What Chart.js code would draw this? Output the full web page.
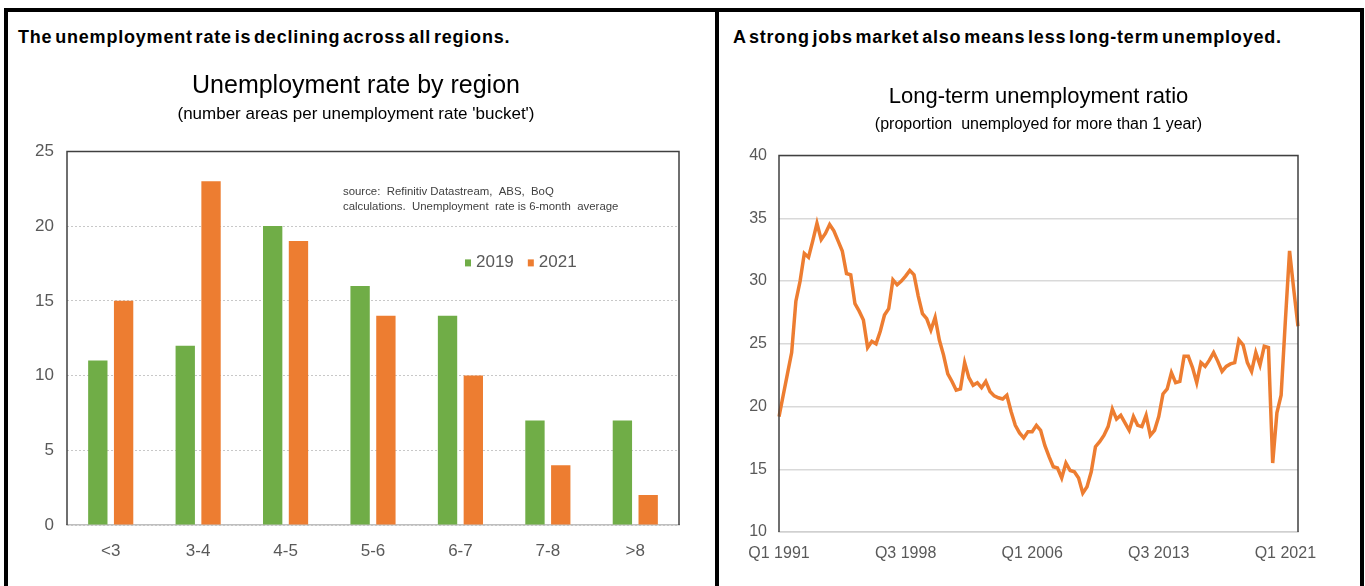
<!DOCTYPE html>
<html lang="en">
<head>
  <meta charset="UTF-8">
  <title>unemployment charts</title>
  <script src="https://cdn.jsdelivr.net/npm/chart.js"></script>
  <style>
    body { margin: 0; background: #fff; font-family: 'Liberation Sans', Arial, sans-serif; }
    #page { position: relative; width: 1365px; height: 586px; overflow: hidden; }
    .rule { position: absolute; background: #000; }
    .headline { position: absolute; top: 26px; line-height: 22px; font-size: 18px; font-weight: bold;
                letter-spacing: 0.8px; word-spacing: -3px; white-space: nowrap; color: #000; }
    .box { position: absolute; top: 55px; height: 531px; }
  </style>
</head>
<body>
<div id="page">
  <div class="rule" style="left:4px;top:8px;width:1360px;height:4px"></div>
  <div class="rule" style="left:4px;top:8px;width:4px;height:578px"></div>
  <div class="rule" style="left:715px;top:8px;width:4px;height:578px"></div>
  <div class="rule" style="left:1360px;top:8px;width:4px;height:578px"></div>

  <div class="headline" style="left:18px">The unemployment rate is declining across all regions.</div>
  <div class="headline" style="left:733px">A strong jobs market also means less long-term unemployed.</div>

  <div class="box" style="left:8px;width:707px"><canvas id="regionChart"></canvas></div>
  <div class="box" style="left:719px;width:641px"><canvas id="ltuChart"></canvas></div>
</div>

<script>
  // regions by unemployment rate bucket
  const buckets = ['<3', '3-4', '4-5', '5-6', '6-7', '7-8', '>8']
  const areas2019 = [11, 12, 20, 16, 14, 7, 7]
  const areas2021 = [15, 23, 19, 14, 10, 4, 2]
  const sourceNote = ['source:  Refinitiv Datastream,  ABS,  BoQ',
                      'calculations.  Unemployment  rate is 6-month  average']

  // long-term unemployment ratio, quarterly from Q1 1991
  const firstYear = 1991
  const ltuRatio = [
    19.2, 20.9, 22.6, 24.3, 28.4, 30.0, 32.2, 31.9, 33.2, 34.6,
    33.3, 33.8, 34.5, 34.0, 33.2, 32.4, 30.6, 30.5, 28.2, 27.6,
    26.9, 24.7, 25.2, 25.0, 26.0, 27.3, 27.8, 30.1, 29.7, 30.0,
    30.4, 30.85, 30.5, 28.8, 27.4, 27.0, 26.1, 27.1, 25.3, 24.1,
    22.6, 22.0, 21.3, 21.4, 23.5, 22.3, 21.7, 21.9, 21.5, 22.0,
    21.2, 20.85, 20.7, 20.6, 20.9, 19.6, 18.5, 17.9, 17.5, 18.0,
    18.0, 18.5, 18.1, 16.9, 16.0, 15.2, 15.1, 14.3, 15.5, 14.9,
    14.8, 14.3, 13.1, 13.6, 14.8, 16.8, 17.2, 17.7, 18.4, 19.8,
    19.0, 19.3, 18.7, 18.1, 19.2, 18.5, 18.4, 19.3, 17.7, 18.1,
    19.2, 21.0, 21.4, 22.7, 21.9, 22.0, 24.0, 24.0, 23.1, 21.9,
    23.5, 23.2, 23.7, 24.3, 23.6, 22.8, 23.2, 23.4, 23.5, 25.3,
    24.9, 23.5, 22.8, 24.3, 23.3, 24.8, 24.7, 15.5, 19.5, 20.9,
    26.8, 32.4, 29.3, 26.4
  ]
  const shownQuarters = ['Q1 1991', 'Q3 1998', 'Q1 2006', 'Q3 2013', 'Q1 2021']

  const quarters = []
  for (let i = 0; i < ltuRatio.length; i++) {
    quarters.push(`Q${i % 4 + 1} ${firstYear + Math.floor(i / 4)}`)
  }

  const green = '#70AD47'
  const orange = '#ED7D31'
  const tickGrey = '#595959'

  Chart.defaults.font.family = "'Liberation Sans', Arial, sans-serif"
  Chart.defaults.color = tickGrey

  // left, top and right edges of the plot box
  const plotFrame = {
    id: 'plotFrame',
    afterDraw(chart) {
      const { ctx, chartArea: a } = chart
      ctx.save()
      ctx.strokeStyle = '#404040'
      ctx.lineWidth = 1.5
      ctx.beginPath()
      ctx.moveTo(a.left, a.bottom)
      ctx.lineTo(a.left, a.top)
      ctx.lineTo(a.right, a.top)
      ctx.lineTo(a.right, a.bottom)
      ctx.stroke()
      ctx.restore()
    }
  }

  // source note and legend sit inside the bar chart's plot
  const insideNotes = {
    id: 'insideNotes',
    afterDatasetsDraw(chart) {
      const { ctx, chartArea: a } = chart
      ctx.save()
      ctx.textBaseline = 'middle'
      ctx.font = "11.4px 'Liberation Sans', Arial, sans-serif"
      ctx.fillStyle = '#404040'
      sourceNote.forEach((line, i) => ctx.fillText(line, a.left + 276, a.top + 40 + i * 15))

      ctx.font = "17px 'Liberation Sans', Arial, sans-serif"
      let x = a.left + 398
      const y = a.top + 111
      chart.data.datasets.forEach(ds => {
        ctx.fillStyle = ds.backgroundColor
        ctx.fillRect(x, y - 3, 6, 7)
        x += 11
        ctx.fillStyle = tickGrey
        ctx.fillText(ds.label, x, y)
        x += ctx.measureText(ds.label).width + 14
      })
      ctx.restore()
    }
  }

  new Chart(document.getElementById('regionChart'), {
    type: 'bar',
    data: {
      labels: buckets,
      datasets: [
        { label: '2019', data: areas2019, backgroundColor: green },
        { label: '2021', data: areas2021, backgroundColor: orange }
      ]
    },
    options: {
      responsive: true,
      maintainAspectRatio: false,
      animation: false,
      categoryPercentage: 0.59,
      barPercentage: 0.75,
      layout: { padding: { left: 25, right: 36, top: 0, bottom: 21 } },
      plugins: {
        legend: { display: false },
        tooltip: { enabled: false },
        title: {
          display: true,
          text: 'Unemployment rate by region',
          color: '#000',
          font: { size: 25, weight: 'normal' },
          padding: { top: 16, bottom: 0 }
        },
        subtitle: {
          display: true,
          text: "(number areas per unemployment rate 'bucket')",
          color: '#000',
          font: { size: 17, weight: 'normal' },
          padding: { top: 3, bottom: 27 }
        }
      },
      scales: {
        x: {
          grid: { display: false, drawTicks: false },
          border: { display: true, color: '#bfbfbf', width: 1.5 },
          ticks: { padding: 16, font: { size: 17 }, color: tickGrey },
          afterFit: (scale) => { scale.height = 40 }
        },
        y: {
          min: 0,
          max: 25,
          grid: { color: '#c8c8c8', drawTicks: false },
          border: { display: false, dash: [2, 2] },
          ticks: { stepSize: 5, padding: 13, font: { size: 17 }, color: tickGrey },
          afterFit: (scale) => { scale.width = 34 }
        }
      }
    },
    plugins: [plotFrame, insideNotes]
  })

  new Chart(document.getElementById('ltuChart'), {
    type: 'line',
    data: {
      labels: quarters,
      datasets: [{
        label: 'Long-term unemployment ratio',
        data: ltuRatio,
        borderColor: orange,
        borderWidth: 3.5,
        pointRadius: 0,
        tension: 0
      }]
    },
    options: {
      responsive: true,
      maintainAspectRatio: false,
      animation: false,
      layout: { padding: { left: 20, right: 62, top: 0, bottom: 14 } },
      plugins: {
        legend: { display: false },
        tooltip: { enabled: false },
        title: {
          display: true,
          fullSize: false,
          text: 'Long-term unemployment ratio',
          color: '#000',
          font: { size: 22, weight: 'normal' },
          padding: { top: 29, bottom: 0 }
        },
        subtitle: {
          display: true,
          fullSize: false,
          text: '(proportion  unemployed for more than 1 year)',
          color: '#000',
          font: { size: 16, weight: 'normal' },
          padding: { top: 5, bottom: 21 }
        }
      },
      scales: {
        x: {
          grid: { display: false, drawTicks: false },
          border: { display: true, color: '#d0d0d0', width: 1.5 },
          ticks: {
            autoSkip: false,
            maxRotation: 0,
            padding: 12,
            font: { size: 16 },
            color: tickGrey,
            callback: (val, i) => shownQuarters.includes(quarters[i]) ? quarters[i] : ''
          },
          afterFit: (scale) => { scale.height = 40 }
        },
        y: {
          min: 10,
          max: 40,
          grid: { color: '#d9d9d9', lineWidth: 1.5, drawTicks: false },
          border: { display: false },
          ticks: { stepSize: 5, padding: 12, font: { size: 16 }, color: tickGrey },
          afterFit: (scale) => { scale.width = 40 }
        }
      }
    },
    plugins: [plotFrame]
  })
</script>
</body>
</html>
